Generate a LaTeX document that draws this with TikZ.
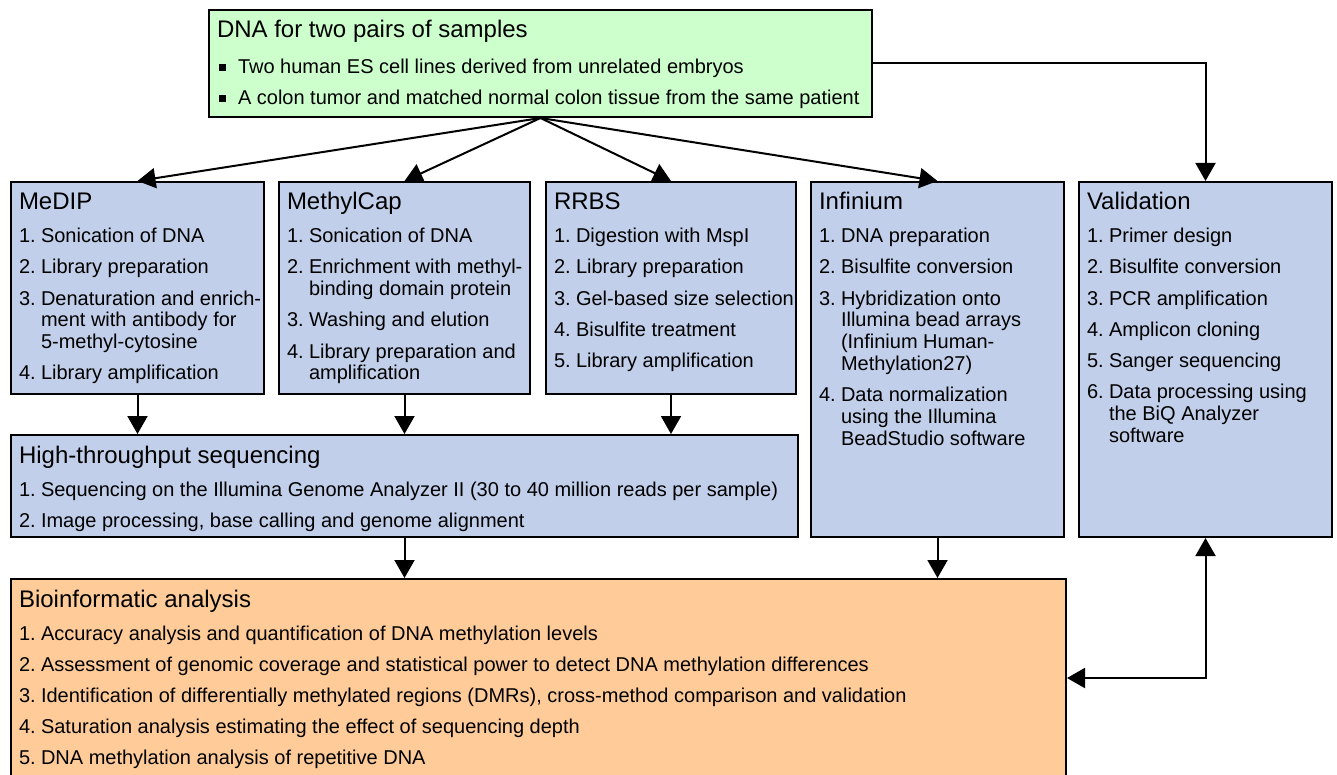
\documentclass[tikz,border=0pt]{standalone}
\usepackage{fontspec}
\setmainfont{Liberation Sans}
\usepackage{tikz}
\usetikzlibrary{arrows.meta}

\definecolor{dnagreen}{RGB}{204,255,204}
\definecolor{methblue}{RGB}{193,207,234}
\definecolor{bioorange}{RGB}{255,204,153}

% box contents
\newcommand{\boxtitle}[1]{\noindent\rule{0pt}{14pt}{\fontsize{12}{13}\selectfont #1}\par\vspace{1pt}}
\newcommand{\stepitem}[2]{\par\hangindent=11pt\hangafter=1\noindent\makebox[11pt][l]{#1}#2}
\newcommand{\bulletitem}[1]{\par\noindent\makebox[10.5pt][l]{\hspace{1pt}\rule[1.5pt]{3.5pt}{3.5pt}}#1}
\newcommand{\panel}[3]{\parbox[t][#2][t]{#1}{\raggedright\leftskip=4pt\parskip=4.5pt #3}}

\begin{document}
\begin{tikzpicture}[
        x = 0.5pt, y = -0.5pt, % pixel grid
        >= {Triangle[length=9pt,width=10pt]}, % arrow head style
        line width = 1pt
    ]

    \tikzstyle{box}=[
        draw = black,
        line width = 1pt,
        anchor = north west,
        inner sep = 0pt,
        font = \fontsize{10}{11}\selectfont
    ]

\useasboundingbox (0,0) rectangle (1337,775);
\clip (0,0) rectangle (1337,775);

\node[box, fill=dnagreen] (dna) at (208,9) {\panel{331.5pt}{53.5pt}{%
  \boxtitle{DNA for two pairs of samples}\vspace{1.5pt}
  \bulletitem{Two human ES cell lines derived from unrelated embryos}
  \bulletitem{A colon tumor and matched normal colon tissue from the same patient}}};

\node[box, fill=methblue] (medip) at (10,181) {\panel{126.5pt}{106pt}{%
  \boxtitle{MeDIP}
  \stepitem{1.}{Sonication of DNA}
  \stepitem{2.}{Library preparation}
  \stepitem{3.}{Denaturation and enrich-\newline ment with antibody for\newline 5-methyl-cytosine}
  \stepitem{4.}{Library amplification}}};

\node[box, fill=methblue] (methylcap) at (278,181) {\panel{125.5pt}{106pt}{%
  \boxtitle{MethylCap}
  \stepitem{1.}{Sonication of DNA}
  \stepitem{2.}{Enrichment with methyl-\newline binding domain protein}
  \stepitem{3.}{Washing and elution}
  \stepitem{4.}{Library preparation and\newline amplification}}};

\node[box, fill=methblue] (rrbs) at (545,181) {\panel{125pt}{106pt}{%
  \boxtitle{RRBS}
  \stepitem{1.}{Digestion with MspI}
  \stepitem{2.}{Library preparation}
  \stepitem{3.}{Gel-based size selection}
  \stepitem{4.}{Bisulfite treatment}
  \stepitem{5.}{Library amplification}}};

\node[box, fill=methblue] (infinium) at (810,181) {\panel{126.5pt}{177.5pt}{%
  \boxtitle{Infinium}
  \stepitem{1.}{DNA preparation}
  \stepitem{2.}{Bisulfite conversion}
  \stepitem{3.}{Hybridization onto\newline Illumina bead arrays\newline (Infinium Human-\newline Methylation27)}
  \stepitem{4.}{Data normalization\newline using the Illumina\newline BeadStudio software}}};

\node[box, fill=methblue] (validation) at (1078,181) {\panel{126.5pt}{177.5pt}{%
  \boxtitle{Validation}
  \stepitem{1.}{Primer design}
  \stepitem{2.}{Bisulfite conversion}
  \stepitem{3.}{PCR amplification}
  \stepitem{4.}{Amplicon cloning}
  \stepitem{5.}{Sanger sequencing}
  \stepitem{6.}{Data processing using\newline the BiQ Analyzer\newline software}}};

\node[box, fill=methblue] (hts) at (10,434) {\panel{393.5pt}{51pt}{%
  \boxtitle{High-throughput sequencing}
  \stepitem{1.}{Sequencing on the Illumina Genome Analyzer II (30 to 40 million reads per sample)}
  \stepitem{2.}{Image processing, base calling and genome alignment}}};

\node[box, fill=bioorange] (bioinfo) at (10,578) {\panel{527.5pt}{99pt}{%
  \boxtitle{Bioinformatic analysis}
  \stepitem{1.}{Accuracy analysis and quantification of DNA methylation levels}
  \stepitem{2.}{Assessment of genomic coverage and statistical power to detect DNA methylation differences}
  \stepitem{3.}{Identification of differentially methylated regions (DMRs), cross-method comparison and validation}
  \stepitem{4.}{Saturation analysis estimating the effect of sequencing depth}
  \stepitem{5.}{DNA methylation analysis of repetitive DNA}}};

 \path [->] (dna.south) edge (medip.north);
 \path [->] (dna.south) edge (methylcap.north);
 \path [->] (dna.south) edge (rrbs.north);
 \path [->] (dna.south) edge (infinium.north);
 \draw [->] (dna.east) -| (validation.north);

 \path [->] (medip.south) edge (medip.south |- hts.north);
 \path [->] (methylcap.south) edge (methylcap.south |- hts.north);
 \path [->] (rrbs.south) edge (rrbs.south |- hts.north);
 \path [->] (hts.south) edge (hts.south |- bioinfo.north);
 \path [->] (infinium.south) edge (infinium.south |- bioinfo.north);
 \draw [<->] (validation.south) |- (bioinfo.east);
\end{tikzpicture}
\end{document}
